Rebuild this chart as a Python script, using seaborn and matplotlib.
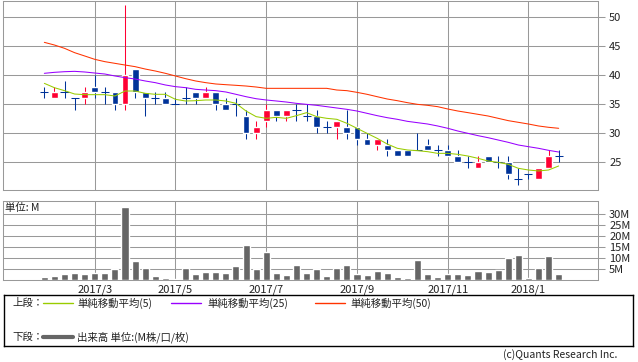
import numpy as np
import pandas as pd
import seaborn as sns
import matplotlib
matplotlib.use('Agg')
import matplotlib.pyplot as plt

sns.set_style('white')
plt.rcParams['font.family'] = ['Noto Sans CJK JP', 'DejaVu Sans']

# weekly candles (52 weeks)
open_ = [37, 36, 37, 36, 36, 38, 37, 37, 35, 41, 37, 36, 36, 35, 36, 37, 36, 37, 35, 35,
         33, 30, 32, 34, 33, 34, 33, 33, 31, 31, 31, 31, 29, 28, 28, 27, 27, 27, 28, 27,
         27, 26, 25, 24, 26, 25, 25, 22, 23, 22, 24, 26]
high = [38, 38, 39, 36, 38, 40, 38, 37, 52, 41, 37, 37, 37, 36, 38, 37, 38, 37, 36, 36,
        34, 32, 35, 34, 34, 35, 35, 34, 32, 32, 34, 31, 30, 29, 29, 27, 27, 30, 29, 28,
        28, 27, 26, 26, 26, 26, 26, 24, 23, 24, 27, 27]
low = [36, 36, 36, 34, 35, 36, 35, 34, 34, 36, 33, 35, 35, 35, 35, 35, 36, 34, 34, 33,
       29, 29, 31, 32, 32, 32, 32, 30, 30, 29, 29, 28, 28, 27, 26, 26, 26, 27, 27, 26,
       26, 25, 24, 24, 25, 24, 22, 21, 22, 22, 24, 25]
close = [37, 37, 37, 36, 37, 37, 37, 35, 40, 37, 36, 36, 35, 35, 36, 36, 37, 35, 34, 35,
         30, 31, 34, 33, 34, 34, 33, 31, 31, 32, 30, 29, 28, 29, 27, 26, 26, 27, 27, 27,
         26, 25, 25, 25, 25, 25, 23, 22, 23, 24, 26, 26]

ma5 = [38.56, 37.81, 37.30, 36.72, 36.61, 36.61, 36.61, 36.38, 37.24, 37.24, 36.84, 36.67,
       36.67, 35.80, 35.52, 35.57, 35.69, 35.69, 35.52, 35.11, 33.79, 32.82, 32.53, 32.70,
       32.53, 32.99, 33.51, 32.82, 32.53, 32.36, 31.67, 30.81, 29.94, 29.08, 28.10, 27.36,
       27.07, 26.95, 26.78, 26.49, 26.49, 26.32, 26.03, 25.63, 25.17, 24.94, 24.60, 23.91,
       23.62, 23.45, 23.62, 24.31]
ma25 = [40.29, 40.46, 40.57, 40.63, 40.52, 40.34, 40.17, 39.83, 39.54, 39.31, 38.97, 38.68,
        38.28, 37.99, 37.82, 37.53, 37.41, 37.30, 37.07, 36.67, 36.26, 35.91, 35.69, 35.52,
        35.34, 35.11, 34.94, 34.77, 34.54, 34.31, 34.08, 33.79, 33.39, 32.99, 32.64, 32.36,
        32.01, 31.78, 31.55, 31.21, 30.81, 30.34, 29.94, 29.54, 29.19, 28.79, 28.39, 27.93,
        27.64, 27.36, 27.01, 26.72]
ma50 = [45.63, 45.17, 44.60, 43.85, 43.28, 42.70, 42.30, 42.01, 41.72, 41.44, 41.03, 40.69,
        40.29, 39.83, 39.37, 38.97, 38.68, 38.45, 38.33, 38.22, 38.10, 37.93, 37.70, 37.70,
        37.70, 37.70, 37.70, 37.70, 37.70, 37.41, 37.30, 37.01, 36.67, 36.26, 35.86, 35.57,
        35.23, 34.94, 34.77, 34.54, 34.14, 33.79, 33.51, 33.22, 32.93, 32.53, 32.13, 31.84,
        31.55, 31.21, 30.98, 30.81]

# volume in millions
volume = [1.4, 1.8, 2.7, 3.2, 2.7, 3.2, 3.2, 5.0, 33.2, 8.6, 5.5, 1.8, 0.9, 0.3, 5.5, 2.7,
          3.6, 3.6, 3.2, 6.4, 15.9, 5.0, 12.7, 3.2, 2.3, 6.8, 3.2, 5.0, 1.8, 5.5, 6.8, 2.7,
          2.3, 4.1, 3.2, 1.4, 0.9, 9.1, 2.7, 1.4, 2.7, 2.7, 2.3, 4.1, 3.6, 4.5, 10.0, 11.4,
          0.9, 5.5, 10.9, 2.7]

month_idx = [5, 13, 22, 31, 40, 48]
month_labels = ['2017/3', '2017/5', '2017/7', '2017/9', '2017/11', '2018/1']

df = pd.DataFrame({'i': np.arange(len(close)), 'open': open_, 'high': high, 'low': low,
                   'close': close, 'ma5': ma5, 'ma25': ma25, 'ma50': ma50, 'vol': volume})

RED = '#ff0033'
BLUE = '#003399'
GRID = '#999999'
TXT = '#222222'
c_ma5, c_ma25, c_ma50 = '#99cc00', '#9900ff', '#ff3300'
LW = 0.75

W, H = 638, 362
fig = plt.figure(figsize=(W / 100, H / 100), dpi=100)

def px_axes(x0, y0, x1, y1):
    return fig.add_axes([x0 / W, 1 - y1 / H, (x1 - x0) / W, (y1 - y0) / H])

xlim = (-4.1, 54.9)

# ---- price panel
ax = px_axes(3, 1, 598, 190)
up = df['close'] > df['open']
dj = df['close'] == df['open']
col = np.where(up, RED, BLUE)
ax.vlines(df['i'], df['low'], df['high'], colors=col, lw=LW, zorder=3)
ax.bar(df['i'][~dj], (df['close'] - df['open']).abs()[~dj],
       bottom=df[['open', 'close']].min(axis=1)[~dj], width=0.68,
       color=col[~dj], zorder=4)
ax.hlines(df['close'][dj], df['i'][dj] - 0.4, df['i'][dj] + 0.4, colors=BLUE, lw=LW, zorder=4)
sns.lineplot(data=df, x='i', y='ma5', color=c_ma5, lw=LW, ax=ax, zorder=5)
sns.lineplot(data=df, x='i', y='ma25', color=c_ma25, lw=LW, ax=ax, zorder=5)
sns.lineplot(data=df, x='i', y='ma50', color=c_ma50, lw=LW, ax=ax, zorder=5)
ax.set_xlim(*xlim)
ax.set_ylim(20.17, 52.76)
ax.set_yticks([25, 30, 35, 40, 45, 50])
ax.set_xticks(month_idx)
ax.set_xticklabels([])
ax.yaxis.tick_right()
ax.tick_params(axis='y', length=5, width=LW, color=GRID, labelsize=8, labelcolor=TXT, pad=3)
ax.tick_params(axis='x', length=0)
ax.grid(True, color=GRID, lw=LW)
ax.set_axisbelow(True)
ax.set_xlabel('')
ax.set_ylabel('')
for s in ax.spines.values():
    s.set_color(GRID)
    s.set_linewidth(LW)

# ---- volume panel
av = px_axes(3, 201, 598, 280)
sns.barplot(data=df, x='i', y='vol', color='#666666', saturation=1, width=0.7,
            native_scale=True, ax=av, zorder=3)
av.set_xlim(*xlim)
av.set_ylim(0, 35.9)
av.set_yticks([5, 10, 15, 20, 25, 30])
av.set_yticklabels([f'{v}M' for v in [5, 10, 15, 20, 25, 30]])
av.set_xticks(month_idx)
av.set_xticklabels(month_labels)
av.yaxis.tick_right()
av.tick_params(axis='y', length=5, width=LW, color=GRID, labelsize=8, labelcolor=TXT, pad=3)
av.tick_params(axis='x', length=0, labelsize=8, labelcolor=TXT, pad=3)
av.grid(True, color=GRID, lw=LW)
av.set_axisbelow(True)
av.set_xlabel('')
av.set_ylabel('')
for s in av.spines.values():
    s.set_color(GRID)
    s.set_linewidth(LW)
av.text(0.004, 0.97, '単位: M', transform=av.transAxes, ha='left', va='top',
        fontsize=7.5, color=TXT, zorder=6,
        bbox=dict(facecolor='white', edgecolor='none', pad=0.5))

# ---- legend box
al = px_axes(4, 295, 633, 346)
al.set_xlim(0, 629)
al.set_ylim(51, 0)
al.set_xticks([])
al.set_yticks([])
for s in al.spines.values():
    s.set_color('black')
    s.set_linewidth(1)
fs = 7.5
al.text(8, 8, '上段：', fontsize=fs, va='center', color=TXT)
al.plot([39, 69], [8, 8], color=c_ma5, lw=1)
al.text(73, 8, '単純移動平均(5)', fontsize=fs, va='center', color=TXT)
al.plot([167, 197], [8, 8], color=c_ma25, lw=1)
al.text(203, 8, '単純移動平均(25)', fontsize=fs, va='center', color=TXT)
al.plot([311, 341], [8, 8], color=c_ma50, lw=1)
al.text(346, 8, '単純移動平均(50)', fontsize=fs, va='center', color=TXT)
al.text(8, 42, '下段：', fontsize=fs, va='center', color=TXT)
al.plot([39, 69], [42, 42], color='#666666', lw=3)
al.text(73, 42, '出来高 単位:(M株/口/枚)', fontsize=fs, va='center', color=TXT)

fig.text(617 / W, 1 - 355 / H, '(c)Quants Research Inc.', ha='right', va='center',
         fontsize=7.5, color=TXT)

fig.savefig('out.png', dpi=100)
